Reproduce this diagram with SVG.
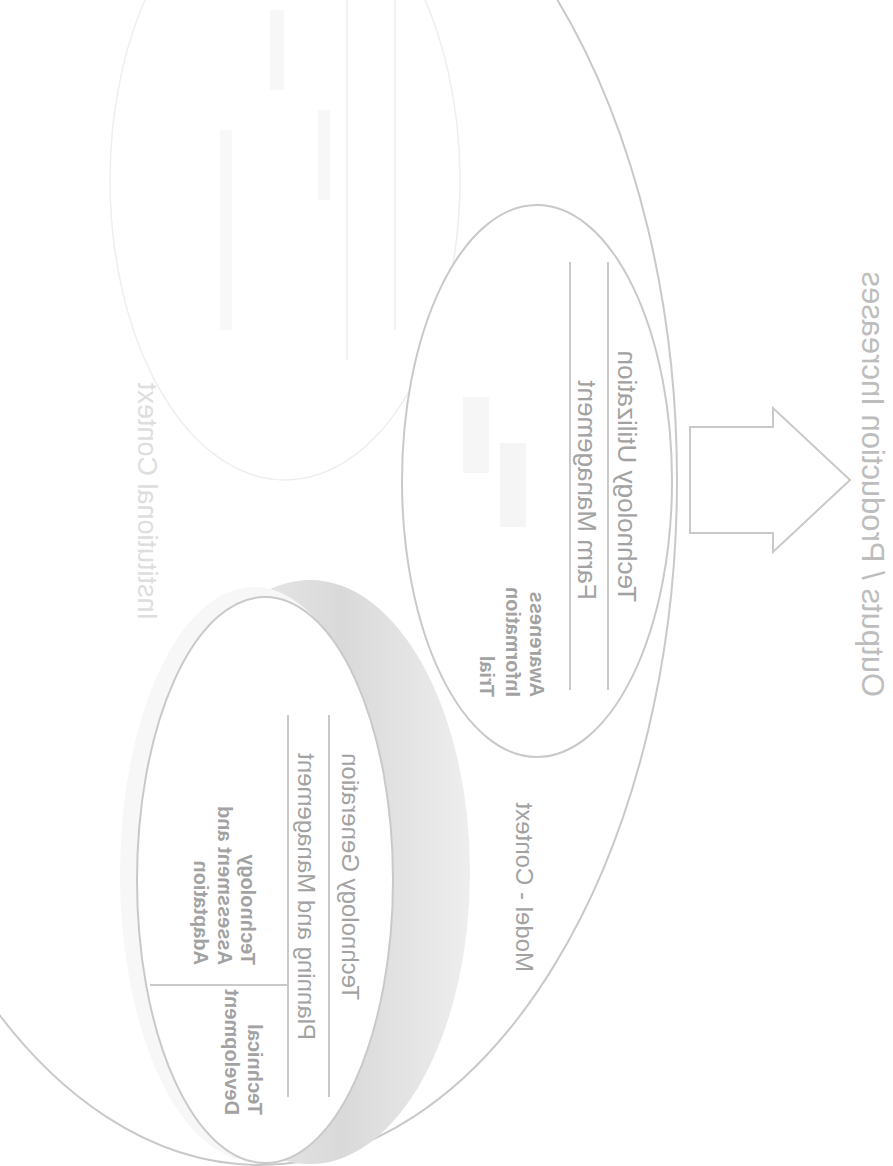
<svg xmlns="http://www.w3.org/2000/svg" width="893" height="1166" viewBox="0 0 893 1166">
<style>
.ln{fill:none;stroke:#c9c9c9;stroke-width:2}
.faint{fill:none;stroke:#eeeeee;stroke-width:1.5}
.t{font-family:"Liberation Sans",Arial,sans-serif;fill:#a2a2a2}
.big{font-size:26px}
.mid{font-size:24px}
.sm{font-size:20px;font-weight:bold}
</style>
<defs>
<linearGradient id="rim" x1="0" y1="0" x2="1" y2="0">
<stop offset="0" stop-color="#f6f6f6"/>
<stop offset="0.6" stop-color="#d9d9d9"/>
<stop offset="1" stop-color="#eeeeee"/>
</linearGradient>
</defs>
<rect width="893" height="1166" fill="#fff"/>
<g id="faint-ellipse">
<ellipse cx="285" cy="180" rx="175" ry="300" class="faint"/>
<line x1="347" y1="0" x2="347" y2="360" class="faint"/>
<line x1="395" y1="0" x2="395" y2="330" class="faint"/>
<rect x="270" y="10" width="14" height="80" fill="#f7f7f7"/>
<rect x="318" y="110" width="12" height="90" fill="#f7f7f7"/>
<rect x="220" y="130" width="12" height="200" fill="#f8f8f8"/>
</g>
<g id="outer">
<ellipse cx="260" cy="480" rx="417" ry="685" class="ln"/>
<text class="t" font-size="27" style="fill:#dedede" transform="matrix(0,-1,-1,0,138,620)">Institutional Context</text>
<text class="t mid" transform="matrix(0,-1,-1,0,516,972)">Model - Context</text>
</g>
<g id="tech-generation">
<ellipse cx="310" cy="872" rx="160" ry="292" fill="url(#rim)"/>
<ellipse cx="254" cy="874" rx="134" ry="287" fill="#f7f7f7"/>
<ellipse cx="265" cy="880" rx="128" ry="283" class="ln" style="fill:#fff"/>
<line x1="329" y1="715" x2="329" y2="1097" class="ln"/>
<line x1="288" y1="715" x2="288" y2="1097" class="ln"/>
<line x1="150" y1="985" x2="288" y2="985" class="ln"/>
<text class="t mid" transform="matrix(0,-1,-1,0,342,1000)">Technology Generation</text>
<text class="t mid" transform="matrix(0,-1,-1,0,298,1040)">Planning and Management</text>
<text class="t sm" transform="matrix(0,-1,-1,0,241,965)">Technology</text>
<text class="t sm" transform="matrix(0,-1,-1,0,218,965)">Assessment and</text>
<text class="t sm" transform="matrix(0,-1,-1,0,194,965)">Adaptation</text>
<text class="t sm" transform="matrix(0,-1,-1,0,248,1115)">Technical</text>
<text class="t sm" transform="matrix(0,-1,-1,0,225,1115)">Development</text>
</g>
<g id="tech-utilization">
<ellipse cx="537" cy="481" rx="135" ry="276" class="ln" style="fill:#fff"/>
<line x1="608" y1="262" x2="608" y2="690" class="ln"/>
<line x1="570" y1="262" x2="570" y2="690" class="ln"/>
<rect x="500" y="443" width="26" height="84" fill="#f5f5f5"/>
<rect x="463" y="397" width="26" height="76" fill="#f6f6f6"/>
<text class="t big" transform="matrix(0,-1,-1,0,618,602)">Technology Utilization</text>
<text class="t big" transform="matrix(0,-1,-1,0,578,600)">Farm Management</text>
<text class="t sm" transform="matrix(0,-1,-1,0,530,697)">Awareness</text>
<text class="t sm" transform="matrix(0,-1,-1,0,506,697)">Information</text>
<text class="t sm" transform="matrix(0,-1,-1,0,480,697)">Trial</text>
</g>
<g id="connectors">
<polygon points="690,427 773,427 773,408 850,480 773,552 773,533 690,533" class="ln" style="fill:#fff"/>
</g>
<g id="outputs">
<text class="t" font-size="31" style="fill:#bdbdbd" transform="matrix(0,-1,-1,0,862,697)">Outputs / Production Increases</text>
</g>
</svg>
